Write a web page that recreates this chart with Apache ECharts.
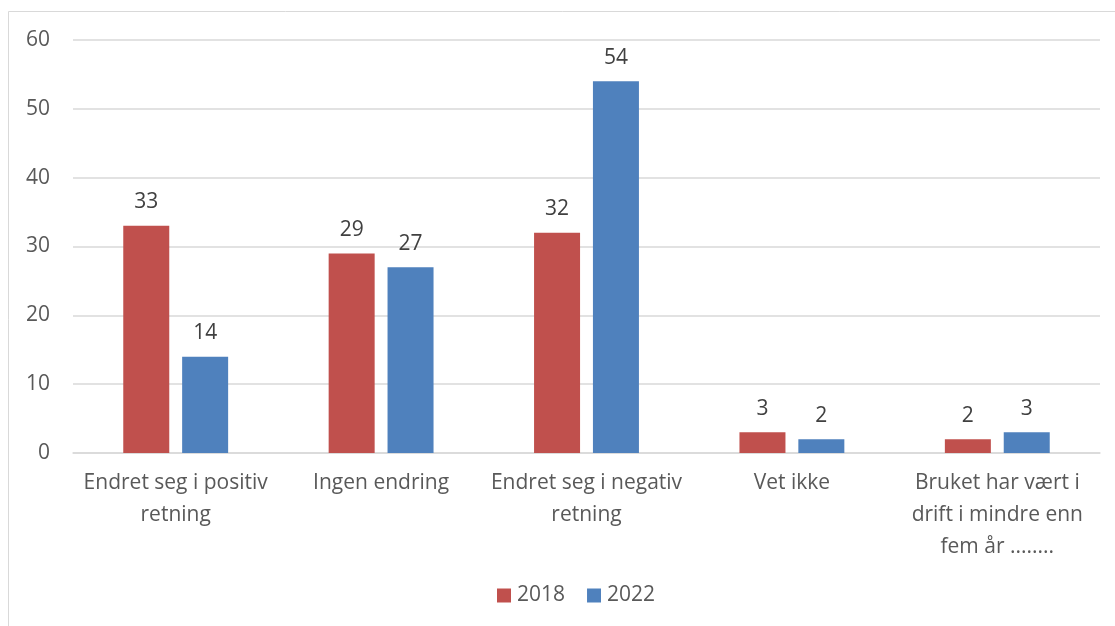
<!DOCTYPE html>
<html>
<head>
<meta charset="utf-8">
<script src="https://cdn.jsdelivr.net/npm/echarts@6/dist/echarts.min.js"></script>
<style>
  html, body { margin: 0; padding: 0; background: #fff; }
  #chart { width: 1115px; height: 626px; }
</style>
</head>
<body>
<div id="chart"></div>
<script>
const categories = [
  "Endret seg i positiv\nretning",
  "Ingen endring",
  "Endret seg i negativ\nretning",
  "Vet ikke",
  "Bruket har vært i\ndrift i mindre enn\nfem år ........",
];
const values2018 = [33, 29, 32, 3, 2];
const values2022 = [14, 27, 54, 2, 3];
const yTicks = { min: 0, max: 60, interval: 10 };

const font = "'Open Sans', 'Liberation Sans', sans-serif";
const chart = echarts.init(document.getElementById("chart"));

const option = {
  animation: false,
  backgroundColor: "#fff",
  textStyle: { fontFamily: font },
  graphic: [
    {
      type: "rect",
      shape: { x: 8.5, y: 11.5, width: 1120, height: 640 },
      style: { fill: "none", stroke: "#d9d9d9", lineWidth: 1 },
      silent: true,
    },
  ],
  grid: {
    left: 73,
    right: 15,
    top: 40,
    bottom: 173,
    containLabel: false,
  },
  legend: {
    bottom: 15,
    left: 492,
    itemWidth: 14,
    itemHeight: 14,
    itemGap: 22,
    icon: "rect",
    textStyle: { color: "#595959", fontSize: 21, fontFamily: font, padding: [0, 0, 0, 1] },
    data: ["2018", "2022"],
  },
  xAxis: {
    type: "category",
    data: categories,
    axisLine: { show: true, lineStyle: { color: "#d9d9d9", width: 1.5 } },
    axisTick: { show: false },
    axisLabel: {
      color: "#595959",
      fontSize: 21,
      lineHeight: 32,
      margin: 14,
      interval: 0,
      fontFamily: font,
    },
  },
  yAxis: {
    type: "value",
    min: yTicks.min,
    max: yTicks.max,
    interval: yTicks.interval,
    axisLine: { show: false },
    axisTick: { show: false },
    splitLine: { lineStyle: { color: "#d9d9d9", width: 1.5 } },
    axisLabel: {
      color: "#595959",
      fontSize: 21,
      margin: 23,
      fontFamily: font,
    },
  },
  series: [
    {
      name: "2018",
      type: "bar",
      data: values2018,
      barWidth: 46,
      barGap: "28%",
      itemStyle: { color: "#C0504D" },
      label: {
        show: true,
        position: "top",
        distance: 13,
        color: "#404040",
        fontSize: 21,
        fontFamily: font,
      },
    },
    {
      name: "2022",
      type: "bar",
      data: values2022,
      barWidth: 46,
      itemStyle: { color: "#4F81BD" },
      label: {
        show: true,
        position: "top",
        distance: 13,
        color: "#404040",
        fontSize: 21,
        fontFamily: font,
      },
    },
  ],
};

chart.setOption(option);
</script>
</body>
</html>
